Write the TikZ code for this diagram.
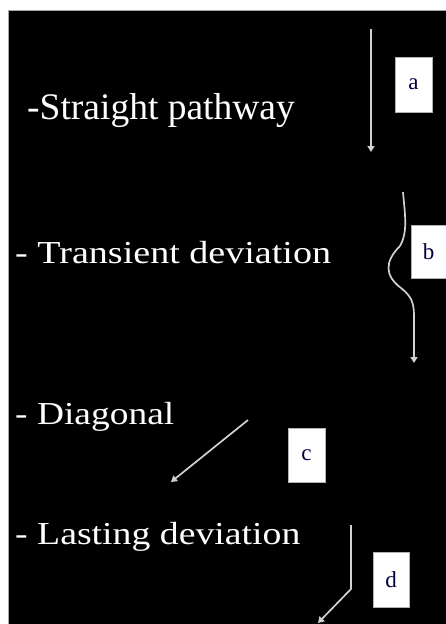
\documentclass[tikz,border=0pt]{standalone}
\usepackage{fontspec}
\setmainfont{Liberation Serif}
\usetikzlibrary{arrows.meta}
\tikzset{
  lbl/.style={anchor=base west, inner sep=0pt, text=white},
  tag/.style={fill=white, draw=gray!60, line width=0.6pt, minimum width=36pt, minimum height=54pt, inner sep=0pt, text=black!75!blue, font=\fontsize{23}{25}\selectfont},
  arr/.style={draw=white!82!black, line width=1.7pt, -{Triangle[width=7pt,length=6pt]}}
}
\begin{document}
\begin{tikzpicture}[x=1pt,y=-1pt]
\useasboundingbox (0,0) rectangle (446,624);
\fill[white] (0,0) rectangle (446,624);
\fill[black] (8,10) rectangle (446,624);
\draw[gray!70, line width=1pt] (8,624) -- (8,10) -- (446,10);

\node[lbl, font=\fontsize{37.5}{40}\selectfont] (t1) at (27,119) {-Straight pathway};
\node[lbl, font=\fontsize{32}{34}\selectfont] (t2) at (15,263) {\scalebox{1.19}[1]{- Transient deviation}};
\node[lbl, font=\fontsize{32}{34}\selectfont] (t3) at (15,424) {\scalebox{1.17}[1]{- Diagonal}};
\node[lbl, font=\fontsize{32}{34}\selectfont] (t4) at (15,544) {\scalebox{1.18}[1]{- Lasting deviation}};

\node[tag, minimum width=37pt, minimum height=55pt] (ba) at (413.5,84.5) {a};
\node[tag, minimum width=35pt, minimum height=53pt] (bb) at (428.5,251.5) {b};
\node[tag, minimum width=37pt, minimum height=54pt] (bc) at (306.5,455.5) {c};
\node[tag, minimum width=36pt, minimum height=55pt] (bd) at (391,579.5) {d};

\coordinate (a0) at (371,29);
\coordinate (a1) at (371,152);
\draw[arr] (a0) -- (a1);

\coordinate (b0) at (403,192);
\coordinate (b1) at (414,363);
\draw[arr] (b0) .. controls (405,215) and (408,232) .. (400,246)
  .. controls (384,262) and (385,276) .. (401,288)
  .. controls (411,296) and (414,302) .. (414,316) -- (b1);

\coordinate (c0) at (248,420);
\coordinate (c1) at (171,482);
\draw[arr] (c0) -- (c1);

\coordinate (d0) at (351,525);
\coordinate (dm) at (351,589);
\coordinate (d1) at (318,623);
\draw[arr] (d0) -- (dm) -- (d1);
\end{tikzpicture}
\end{document}
